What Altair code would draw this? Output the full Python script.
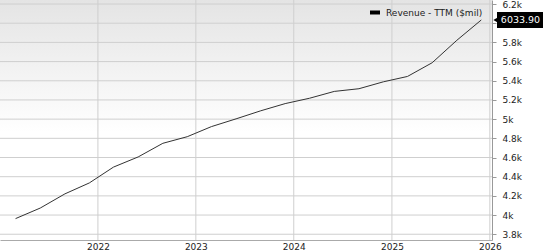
import altair as alt
import pandas as pd

# ---- data ----
dates = [
    "2021-02-28", "2021-05-31", "2021-08-31", "2021-11-30",
    "2022-02-28", "2022-05-31", "2022-08-31", "2022-11-30",
    "2023-02-28", "2023-05-31", "2023-08-31", "2023-11-30",
    "2024-02-29", "2024-05-31", "2024-08-31", "2024-11-30",
    "2025-02-28", "2025-05-31", "2025-08-31", "2025-11-30",
]
revenue = [
    3963, 4073, 4221, 4335,
    4500, 4606, 4748, 4817,
    4922, 5003, 5087, 5162,
    5218, 5289, 5317, 5389,
    5445, 5588, 5822, 6033.90,
]
series_name = "Revenue - TTM ($mil)"
last_label = "6033.90"
y_ticks = [3800, 4000, 4200, 4400, 4600, 4800, 5000, 5200, 5400, 5600, 5800, 6000, 6200]
hidden_label_tick = 6000  # covered by the last-value tag in the reference
x_tick_years = [2022, 2023, 2024, 2025, 2026]

W, H = 492, 240
FONT = "DejaVu Sans"

df = pd.DataFrame({"date": pd.to_datetime(dates), "revenue": revenue})
last_df = pd.DataFrame({"date": [pd.to_datetime(dates[-1])], "revenue": [revenue[-1]], "label": [last_label]})
ygrid_df = pd.DataFrame({"revenue": y_ticks})
xgrid_df = pd.DataFrame({"date": [pd.Timestamp(year=y, month=1, day=1) for y in x_tick_years]})
legend_df = pd.DataFrame({"name": [series_name]})

x_scale = alt.Scale(domain=[alt.DateTime(year=2021, month=1, date=1),
                            alt.DateTime(year=2026, month=1, date=9)])
y_scale = alt.Scale(domain=[3740, 6242], nice=False, zero=False)

x_axis = alt.Axis(
    title=None, grid=False, ticks=False, domain=True, domainColor="#aaaaaa",
    values=[alt.DateTime(year=y, month=1, date=1) for y in x_tick_years],
    format="%Y", labelFont=FONT, labelFontSize=9, labelColor="#222222",
    labelPadding=2, labelFlush=False, labelOverlap=False,
)
y_axis = alt.Axis(
    title=None, orient="right", grid=False, values=y_ticks,
    labelExpr=f"datum.value == {hidden_label_tick} ? '' : datum.value / 1000 + 'k'",
    tickSize=4, tickColor="#999999", domain=True, domainColor="#999999",
    labelFont=FONT, labelFontSize=9, labelColor="#222222", labelPadding=6,
)

X = alt.X("date:T", scale=x_scale, axis=x_axis)
Y = alt.Y("revenue:Q", scale=y_scale, axis=y_axis)

bg = alt.Chart(legend_df).mark_rect(
    fill=alt.LinearGradient(
        gradient="linear",
        stops=[alt.GradientStop(color="#e4e4e4", offset=0),
               alt.GradientStop(color="#ffffff", offset=0.55)],
        x1=0, x2=0, y1=0, y2=1,
    )
).encode(x=alt.value(0), x2=alt.value(W), y=alt.value(0), y2=alt.value(H))

ygrid = alt.Chart(ygrid_df).mark_rule(color="#cfcfcf", strokeWidth=1).encode(y=Y)
xgrid = alt.Chart(xgrid_df).mark_rule(color="#cfcfcf", strokeWidth=1).encode(x=X)

line = alt.Chart(df).mark_line(color="#333333", strokeWidth=1).encode(x=X, y=Y)

tag_tri = alt.Chart(last_df).mark_point(
    shape="triangle-left", filled=True, color="black", opacity=1, size=70
).encode(x=alt.value(497), y=Y)
tag_box = alt.Chart(last_df).mark_tick(
    color="black", opacity=1, size=46, thickness=16
).encode(x=alt.value(520), y=Y)
tag_text = alt.Chart(last_df).mark_text(
    color="white", font=FONT, fontSize=9.5, align="center", baseline="middle"
).encode(x=alt.value(520.5), y=Y, text="label:N")

leg_box = alt.Chart(legend_df).mark_rect(color="black").encode(
    x=alt.value(370), x2=alt.value(380), y=alt.value(10.5), y2=alt.value(14.5)
)
leg_text = alt.Chart(legend_df).mark_text(
    font=FONT, fontSize=9, color="#222222", align="left", baseline="middle"
).encode(x=alt.value(386), y=alt.value(12.5), text="name:N")

chart = alt.layer(
    bg, ygrid, xgrid, line, tag_tri, tag_box, tag_text, leg_box, leg_text
).properties(
    width=W, height=H,
    autosize=alt.AutoSizeParams(type="none"),
    padding={"left": 0, "top": 0, "right": 52, "bottom": 10},
    background="white",
).configure_view(stroke=None)

chart.save("out.html", embed_options={"renderer": "svg", "actions": False})
